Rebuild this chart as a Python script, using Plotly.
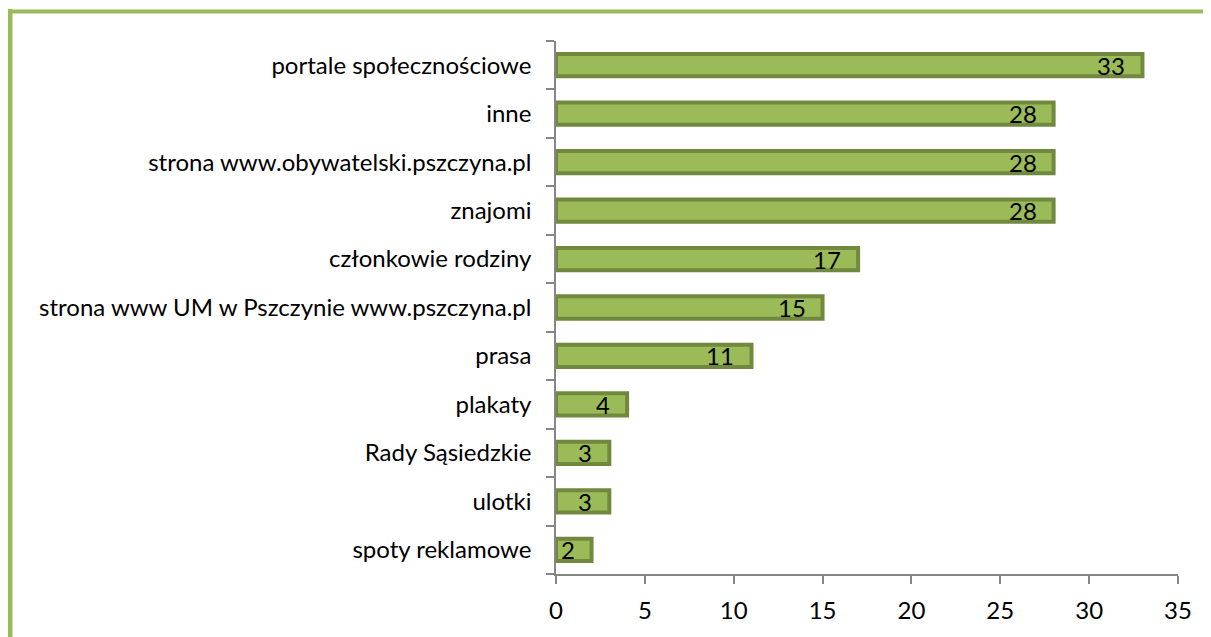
import plotly.graph_objects as go

categories = ["portale społecznościowe", "inne", "strona www.obywatelski.pszczyna.pl", "znajomi",
              "członkowie rodziny", "strona www UM w Pszczynie www.pszczyna.pl", "prasa", "plakaty",
              "Rady Sąsiedzkie", "ulotki", "spoty reklamowe"]
values = [33, 28, 28, 28, 17, 15, 11, 4, 3, 3, 2]
x_ticks = [0, 5, 10, 15, 20, 25, 30, 35]

OFF = 8  # page body margin
W, H = 1211 - OFF, 637 - OFF
L, R, T, B = 556 - OFF, 1178 - OFF, 41 - OFF, 574 - OFF

cats_r = categories[::-1]
vals_r = values[::-1]

fig = go.Figure(go.Bar(
    y=cats_r, x=vals_r, orientation="h",
    marker=dict(color="#9BBB59", line=dict(color="#71893F", width=4)),
    width=0.46,
    hoverinfo="x+y",
))

annotations = [
    dict(x=v, y=c, xref="x", yref="y", text=str(v), showarrow=False,
         xanchor="right", yanchor="middle", xshift=-15, yshift=0,
         font=dict(family="Lato", size=24, color="black"))
    for c, v in zip(cats_r, vals_r)
]

def px(x):
    return (x - L) / (R - L)

def py(y):
    return (B - y) / (B - T)

fig.update_layout(
    width=W, height=H,
    margin=dict(l=L, r=W - R, t=T, b=H - B, autoexpand=False),
    plot_bgcolor="white", paper_bgcolor="white",
    showlegend=False,
    font=dict(family="Lato", size=24, color="black"),
    xaxis=dict(range=[0, 35], tickvals=x_ticks, showgrid=False, zeroline=False,
               showline=True, linecolor="#868686", linewidth=1.5,
               ticks="outside", ticklen=8, tickcolor="#868686", tickwidth=1.5,
               ticklabelstandoff=6, tickfont=dict(size=24)),
    yaxis=dict(showgrid=False, showline=True, linecolor="#868686", linewidth=1.5,
               ticks="outside", ticklen=8, tickcolor="#868686", tickwidth=1.5,
               tickson="boundaries", ticklabelstandoff=18,
               tickfont=dict(size=24)),
    annotations=annotations,
    shapes=[
        dict(type="line", xref="paper", yref="paper", x0=px(2), x1=px(2), y0=py(1), y1=py(H + 5),
             line=dict(color="#9BBB59", width=5)),
        dict(type="line", xref="paper", yref="paper", x0=px(-1), x1=px(W + 5), y0=py(3.5), y1=py(3.5),
             line=dict(color="#9BBB59", width=4)),
    ],
)

fig.write_html("out.html")
